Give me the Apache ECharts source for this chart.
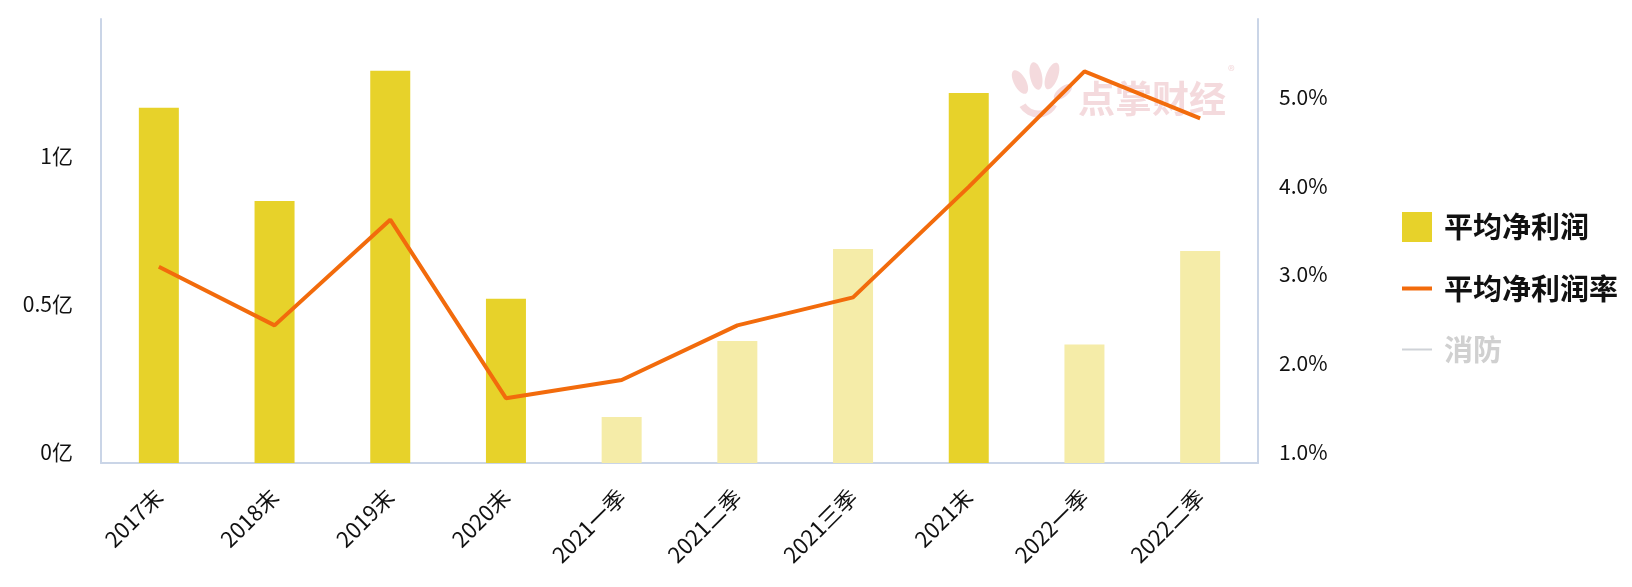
<!DOCTYPE html>
<html>
<head>
<meta charset="utf-8">
<script src="https://cdn.jsdelivr.net/npm/echarts@6/dist/echarts.min.js"></script>
<style>
html,body{margin:0;padding:0;background:#fff;}
#chart{width:1632px;height:587px;}
</style>
</head>
<body>
<div id="chart"></div>
<script>
// ---- data ----
const categories = ['2017末','2018末','2019末','2020末','2021一季','2021二季','2021三季','2021末','2022一季','2022二季'];
const avgProfit = [1.20, 0.885, 1.325, 0.555, 0.155, 0.412, 0.723, 1.25, 0.40, 0.716]; // 亿
const avgMargin = [3.21, 2.55, 3.74, 1.73, 1.935, 2.55, 2.865, 4.11, 5.41, 4.88]; // %
const fireData = []; // 消防 (hidden in legend)
const leftTicks = {min: 0, max: 1.5, interval: 0.5};
const rightTicks = {min: 1, max: 6, interval: 1};

const FONT = '"Microsoft YaHei", "Noto Sans CJK SC", sans-serif';
const DARK = '#E7D22A';
const LIGHT = '#F5ECA8';
const ORANGE = '#F26B0C';
const AXIS = '#CAD5E7';

const chart = echarts.init(document.getElementById('chart'), null, {renderer: 'canvas'});

const barData = avgProfit.map((v, i) => ({
  value: v,
  itemStyle: {color: categories[i].endsWith('末') ? DARK : LIGHT}
}));

const wm = 'rgba(240,205,210,0.75)';
chart.setOption({
  animation: false,
  backgroundColor: '#fff',
  textStyle: {fontFamily: FONT},
  grid: {left: 101, right: 374, top: 19, bottom: 124, containLabel: false},
  legend: {
    orient: 'vertical', left: 1400, top: 212, padding: 0,
    itemWidth: 30, itemHeight: 30, itemGap: 32,
    textStyle: {fontSize: 29, fontWeight: 'bold', color: '#111', fontFamily: FONT, padding: [0, 0, 0, 7]},
    inactiveColor: '#d0d0d0',
    lineStyle: {width: 4},
    data: [
      {name: '平均净利润', icon: 'rect'},
      {name: '平均净利润率', itemStyle: {opacity: 0}},
      {name: '消防', itemStyle: {opacity: 0}}
    ],
    selected: {'消防': false}
  },
  graphic: [
    {type: 'text', left: 1078, top: 80, z: 0, silent: true,
      style: {text: '点掌财经', fill: wm, font: 'bold 37px ' + FONT}},
    {type: 'text', left: 1228, top: 64, z: 0, silent: true,
      style: {text: '®', fill: wm, font: '14px ' + FONT}},
    {type: 'ellipse', shape: {cx: 0, cy: 0, rx: 6, ry: 13}, x: 1020, y: 82, rotation: 0.5, z: 0, silent: true, style: {fill: wm}},
    {type: 'ellipse', shape: {cx: 0, cy: 0, rx: 6, ry: 14}, x: 1036, y: 76, rotation: 0.2, z: 0, silent: true, style: {fill: wm}},
    {type: 'ellipse', shape: {cx: 0, cy: 0, rx: 6, ry: 14}, x: 1052, y: 76, rotation: -0.35, z: 0, silent: true, style: {fill: wm}},
    {type: 'ellipse', shape: {cx: 0, cy: 0, rx: 5, ry: 11}, x: 1063, y: 92, rotation: -0.9, z: 0, silent: true, style: {fill: wm}},
    {type: 'arc', shape: {cx: 1038, cy: 96, r: 18, startAngle: 0.5, endAngle: 2.6}, z: 0, silent: true,
      style: {stroke: wm, lineWidth: 7, fill: null}}
  ],
  xAxis: {
    type: 'category',
    data: categories,
    axisLine: {lineStyle: {color: AXIS, width: 2}},
    axisTick: {show: false},
    axisLabel: {
      rotate: 45, interval: 0, fontSize: 22, color: '#111', fontFamily: FONT,
      margin: 30
    },
    splitLine: {show: false}
  },
  yAxis: [
    {
      type: 'value', min: leftTicks.min, max: leftTicks.max, interval: leftTicks.interval,
      axisLine: {show: true, lineStyle: {color: AXIS, width: 2}},
      axisTick: {show: false}, splitLine: {show: false},
      axisLabel: {
        showMaxLabel: false, fontSize: 21, color: '#111', fontFamily: FONT, margin: 28,
        verticalAlign: 'bottom', lineHeight: 22,
        formatter: v => v + '亿'
      }
    },
    {
      type: 'value', min: rightTicks.min, max: rightTicks.max, interval: rightTicks.interval,
      position: 'right',
      axisLine: {show: true, lineStyle: {color: AXIS, width: 2}},
      axisTick: {show: false}, splitLine: {show: false},
      axisLabel: {
        showMaxLabel: false, fontSize: 21, color: '#111', fontFamily: FONT, margin: 21,
        verticalAlign: 'bottom', lineHeight: 22,
        formatter: v => v.toFixed(1) + '%'
      }
    }
  ],
  series: [
    {
      name: '平均净利润', type: 'bar', yAxisIndex: 0, barWidth: 40,
      itemStyle: {color: DARK},
      data: barData, z: 2
    },
    {
      name: '平均净利润率', type: 'line', yAxisIndex: 1,
      symbol: 'none', showSymbol: false,
      lineStyle: {color: ORANGE, width: 4},
      itemStyle: {color: ORANGE},
      data: avgMargin, z: 3
    },
    {
      name: '消防', type: 'line', yAxisIndex: 1,
      symbol: 'none', showSymbol: false,
      lineStyle: {color: '#999', width: 4},
      itemStyle: {color: '#999'},
      data: fireData
    }
  ]
});
</script>
</body>
</html>
